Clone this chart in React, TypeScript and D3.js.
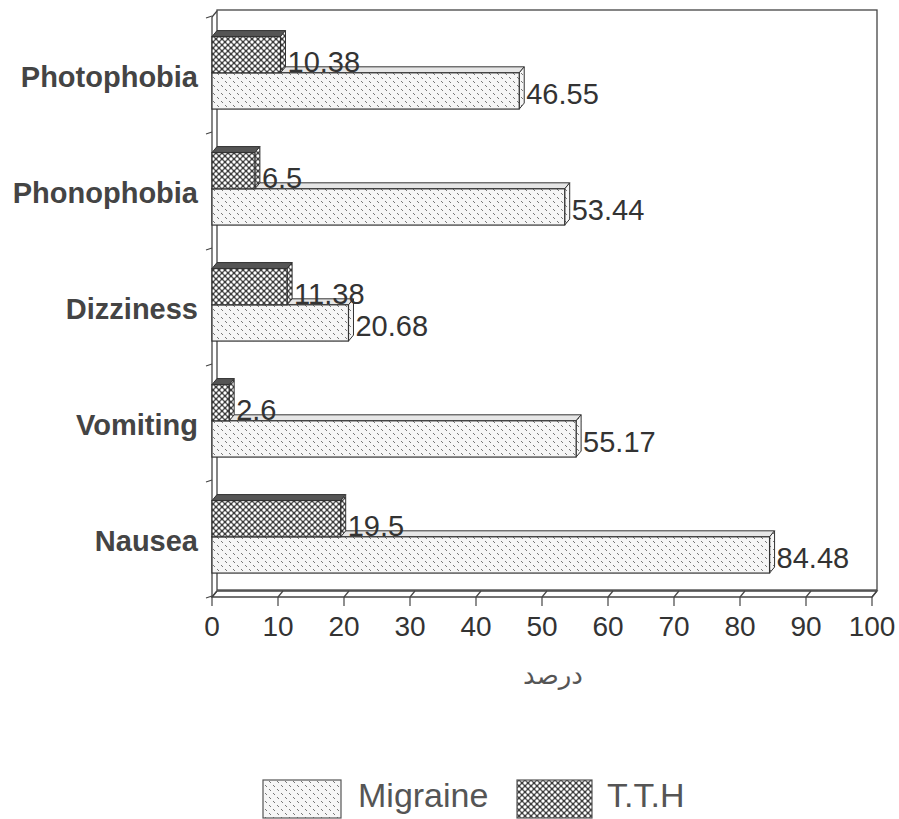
import React from 'react';
import * as d3 from 'd3';

const categories = ['Photophobia', 'Phonophobia', 'Dizziness', 'Vomiting', 'Nausea'];
const migraine = [46.55, 53.44, 20.68, 55.17, 84.48];
const tth = [10.38, 6.5, 11.38, 2.6, 19.5];
const valueLabels = {
  migraine: ['46.55', '53.44', '20.68', '55.17', '84.48'],
  tth: ['10.38', '6.5', '11.38', '2.6', '19.5'],
};
const xTicks = [0, 10, 20, 30, 40, 50, 60, 70, 80, 90, 100];
const seriesKeys = ['tth', 'migraine'];

const W = 899;
const H = 819;
const DX = 5;
const DY = 6;

const App: React.FC = () => {
  const x = d3.scaleLinear().domain([0, 100]).range([212, 872]);
  const y = d3.scaleBand<string>().domain(categories).range([17, 597]).padding(0);
  const sub = d3
    .scaleBand<string>()
    .domain(seriesKeys)
    .range([0, y.bandwidth()])
    .paddingInner(0)
    .paddingOuter(0.6)
    .align(0.45);
  const bh = sub.bandwidth();
  const x0 = x(0);
  const bottom = y.range()[1];
  const top = y.range()[0];

  const bar = (v: number, yTop: number, fill: string, topFill: string, key: string) => {
    const x1 = x(v);
    const yb = yTop + bh;
    return (
      <g key={key}>
        <polygon
          points={`${x0},${yTop} ${x0 + DX},${yTop - DY} ${x1 + DX},${yTop - DY} ${x1},${yTop}`}
          fill={topFill}
          stroke="#333"
          strokeWidth={1}
        />
        <polygon
          points={`${x1},${yTop} ${x1 + DX},${yTop - DY} ${x1 + DX},${yb - DY} ${x1},${yb}`}
          fill={fill}
          stroke="#333"
          strokeWidth={1}
        />
        <rect x={x0} y={yTop} width={x1 - x0} height={bh} fill={fill} stroke="#333" strokeWidth={1.2} />
      </g>
    );
  };

  return (
    <svg width={W} height={H} style={{ position: 'absolute', left: 0, top: 0, background: '#fff' }}>
      <defs>
        <pattern id="pMig" patternUnits="userSpaceOnUse" width={8} height={8}>
          <rect width={8} height={8} fill="#f6f6f6" />
          <path d="M1,1 l2,2 M5,5 l2,2" stroke="#777" strokeWidth={1} />
        </pattern>
        <pattern id="pTth" patternUnits="userSpaceOnUse" width={6} height={6}>
          <rect width={6} height={6} fill="#3c3c3c" />
          <circle cx={0} cy={0} r={1.7} fill="#fff" />
          <circle cx={6} cy={0} r={1.7} fill="#fff" />
          <circle cx={0} cy={6} r={1.7} fill="#fff" />
          <circle cx={6} cy={6} r={1.7} fill="#fff" />
          <circle cx={3} cy={3} r={1.7} fill="#fff" />
        </pattern>
      </defs>

      {/* back wall and floor */}
      <g fill="none" stroke="#444" strokeWidth={1.3}>
        <rect x={x0 + DX} y={top - DY - 1} width={x(100) - x0} height={bottom - top} fill="#fff" />
        <polygon points={`${x0},${bottom} ${x(100)},${bottom} ${x(100) + DX},${bottom - DY} ${x0 + DX},${bottom - DY}`} />
        <line x1={x0} y1={top} x2={x0} y2={bottom} />
        <line x1={x0} y1={top} x2={x0 + DX} y2={top - DY} />
      </g>

      {/* category ticks on left */}
      <g stroke="#444" strokeWidth={1.2}>
        {[...categories.map((c) => y(c) as number), bottom].map((t, i) => (
          <line key={i} x1={x0 - 6} y1={t + 1} x2={x0} y2={t - 1} />
        ))}
      </g>

      {/* x ticks */}
      <g stroke="#444" strokeWidth={1.2}>
        {xTicks.map((t) => (
          <g key={t}>
            <line x1={x(t)} y1={bottom} x2={x(t) + DX} y2={bottom - DY} />
            <line x1={x(t)} y1={bottom} x2={x(t)} y2={bottom + 9} />
          </g>
        ))}
      </g>
      <g fontFamily="Liberation Sans, Arial, sans-serif" fontSize={28} fill="#333" textAnchor="middle">
        {xTicks.map((t) => (
          <text key={t} x={x(t)} y={636}>
            {t}
          </text>
        ))}
      </g>

      {/* bars */}
      {categories.map((c, i) => {
        const by = y(c) as number;
        return (
          <g key={c}>
            {bar(migraine[i], by + (sub('migraine') as number), 'url(#pMig)', '#e6e6e6', 'm')}
            {bar(tth[i], by + (sub('tth') as number), 'url(#pTth)', '#555', 't')}
          </g>
        );
      })}

      {/* value labels */}
      <g fontFamily="Liberation Sans, Arial, sans-serif" fontSize={29} fill="#333">
        {categories.map((c, i) => {
          const by = y(c) as number;
          const ty = by + (sub('tth') as number);
          const my = by + (sub('migraine') as number);
          return (
            <g key={c}>
              <text x={x(tth[i]) + DX + 2} y={ty + bh - 1}>
                {valueLabels.tth[i]}
              </text>
              <text x={x(migraine[i]) + DX + 2} y={my + bh / 2 + 13}>
                {valueLabels.migraine[i]}
              </text>
            </g>
          );
        })}
      </g>

      {/* category labels */}
      <g fontFamily="Liberation Sans, Arial, sans-serif" fontSize={29} fontWeight="bold" fill="#444" textAnchor="end">
        {categories.map((c) => (
          <text key={c} x={198} y={(y(c) as number) + y.bandwidth() / 2 + 12}>
            {c}
          </text>
        ))}
      </g>

      {/* axis title */}
      <text x={553} y={684} textAnchor="middle" fontFamily="DejaVu Sans, sans-serif" fontSize={26} fill="#555">
        درصد
      </text>

      {/* legend */}
      <g fontFamily="Liberation Sans, Arial, sans-serif" fontSize={34} fill="#555">
        <rect x={263} y={780} width={78} height={38} fill="url(#pMig)" stroke="#555" strokeWidth={1.2} />
        <text x={358} y={807}>Migraine</text>
        <rect x={517} y={780} width={75} height={38} fill="url(#pTth)" stroke="#555" strokeWidth={1.2} />
        <text x={607} y={807}>T.T.H</text>
      </g>
    </svg>
  );
};

export default App;
